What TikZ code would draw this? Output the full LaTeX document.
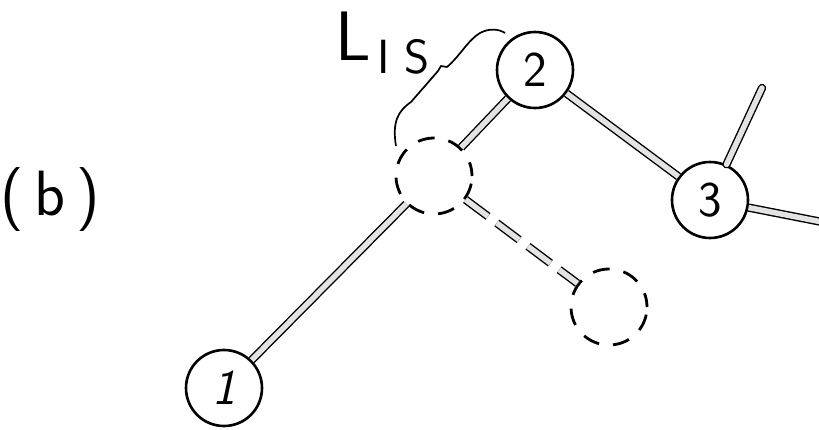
\documentclass[tikz,border=0pt]{standalone}
\begin{document}
\begin{tikzpicture}[x=1pt,y=-1pt,
  atom/.style={circle, draw, line width=2.6pt, minimum size=76pt, inner sep=0pt,
    fill=white, font=\sffamily\fontsize{50}{50}\selectfont},
  ghost/.style={circle, draw, line width=2.8pt, minimum size=76pt, inner sep=0pt,
    fill=white, dash pattern=on 17pt off 14pt, dash phase=3pt},
  bond/.style={draw=black, line width=1.4pt, double=gray!22, double distance=5.5pt},
  ghostbond/.style={bond, dash pattern=on 28pt off 11pt},
  label/.style={inner sep=0pt, font=\sffamily\fontsize{#1}{#1}\selectfont}
]
\useasboundingbox (0,0) rectangle (819,429);

% atoms
\node[atom] (a2) at (535,70) {2};
\node[atom] (a3) at (710,200) {3};
\node[atom] (a1) at (224,388) {\textsl{1}};
\node[ghost] (g0) at (434,176) {};
\node[ghost] (g1) at (609,307) {};

% free ends of the bonds on atom 3
\coordinate (t3) at (762,88);
\coordinate (r3) at (822,222);

% bonds
\draw[bond] (g0) -- (a2);
\draw[bond] (g0) -- (a1);
\draw[bond] (a2) -- (a3);
\draw[bond, line cap=round] (a3) -- (t3);
\draw[bond] (a3) -- (r3);
\draw[ghostbond] (g0) -- (g1);

% brace marking the bond length
\draw[line width=1.7pt, line join=round]
  (396,146) .. controls (392,122) and (398,111) .. (411,102)
  -- (438,71) -- (441,66) -- (447,67)
  .. controls (460,56) and (468,40) .. (480,33)
  .. controls (489,28) and (499,29) .. (505,33);

% labels
\node[label=70, anchor=base west] (lL) at (335,60) {L};
\node[label=48, anchor=base] (lI) at (384,73) {I};
\node[label=48, anchor=base] (lS) at (417,73) {S};
\node[label=64] (lb) at (50,200) {(\,b\,)};
\end{tikzpicture}
\end{document}
